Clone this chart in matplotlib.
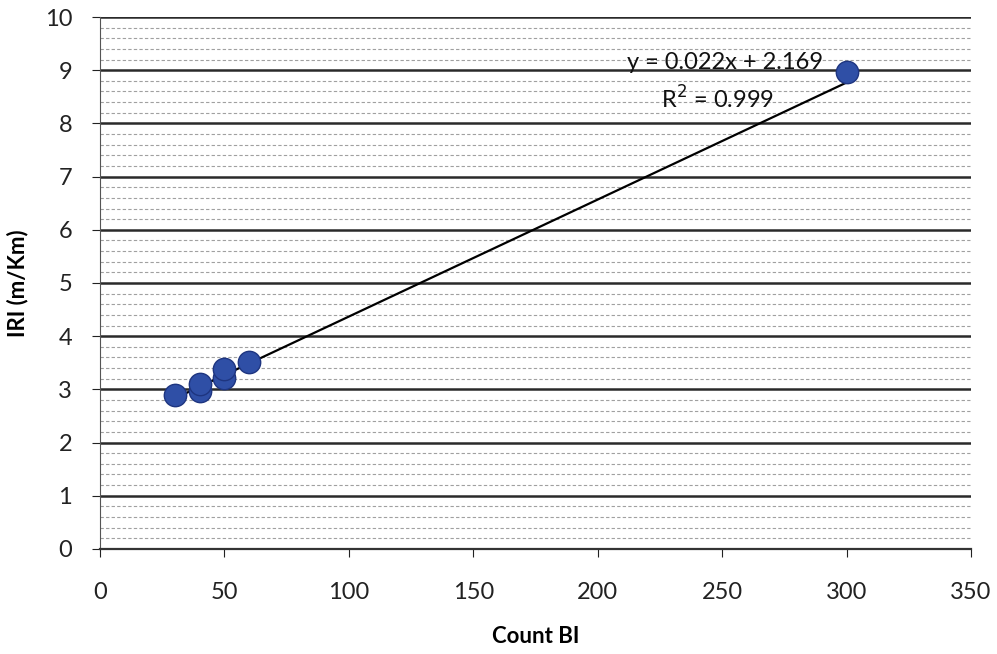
import numpy as np
import matplotlib.pyplot as plt
from matplotlib.ticker import MultipleLocator

# data
count_bi = [30, 40, 40, 50, 50, 60, 300]
iri = [2.9, 2.97, 3.1, 3.22, 3.38, 3.52, 8.97]
slope = 0.022
intercept = 2.169
eq_text = "y = 0.022x + 2.169"
r2_text = "R$^2$ = 0.999"

plt.rcParams['font.family'] = ['Lato', 'DejaVu Sans']

fig = plt.figure(figsize=(9.97, 6.54), dpi=100)
ax = fig.add_axes([0.1003, 0.1606, 0.8737, 0.8134])

# trendline
xl = np.array([min(count_bi), max(count_bi)])
ax.plot(xl, slope * xl + intercept, color='black', lw=1.6, zorder=3)

ax.scatter(count_bi, iri, s=260, color='#2f4fa6', edgecolor='#1e3580',
           linewidth=1, zorder=4)

ax.set_xlim(0, 350)
ax.set_ylim(0, 10)
ax.xaxis.set_major_locator(MultipleLocator(50))
ax.yaxis.set_major_locator(MultipleLocator(1))
ax.yaxis.set_minor_locator(MultipleLocator(0.2))

ax.grid(axis='y', which='major', color='#2a2a2a', lw=1.8)
ax.grid(axis='y', which='minor', color='#a0a0a0', lw=0.8, linestyle=(0, (3, 2)))
ax.set_axisbelow(True)

for s in ['top', 'right']:
    ax.spines[s].set_visible(False)
ax.spines['left'].set_color('#555555')
ax.spines['bottom'].set_color('#333333')
ax.spines['bottom'].set_linewidth(1.6)

ax.tick_params(axis='both', which='major', labelsize=17, colors='#222222',
               length=6, direction='out')
ax.tick_params(axis='x', which='major', pad=18)
ax.tick_params(axis='y', which='major', pad=14)
ax.tick_params(axis='y', which='minor', length=0)

ax.set_xlabel('Count BI', fontsize=16, fontweight='bold', labelpad=16)
ax.set_ylabel('IRI (m/Km)', fontsize=16, fontweight='bold', labelpad=12)

ax.text(251, 9.15, eq_text, fontsize=17, ha='center', va='center', color='#111111')
ax.text(248, 8.46, r2_text, fontsize=17, ha='center', va='center', color='#111111')

fig.savefig('out.png', dpi=100)
